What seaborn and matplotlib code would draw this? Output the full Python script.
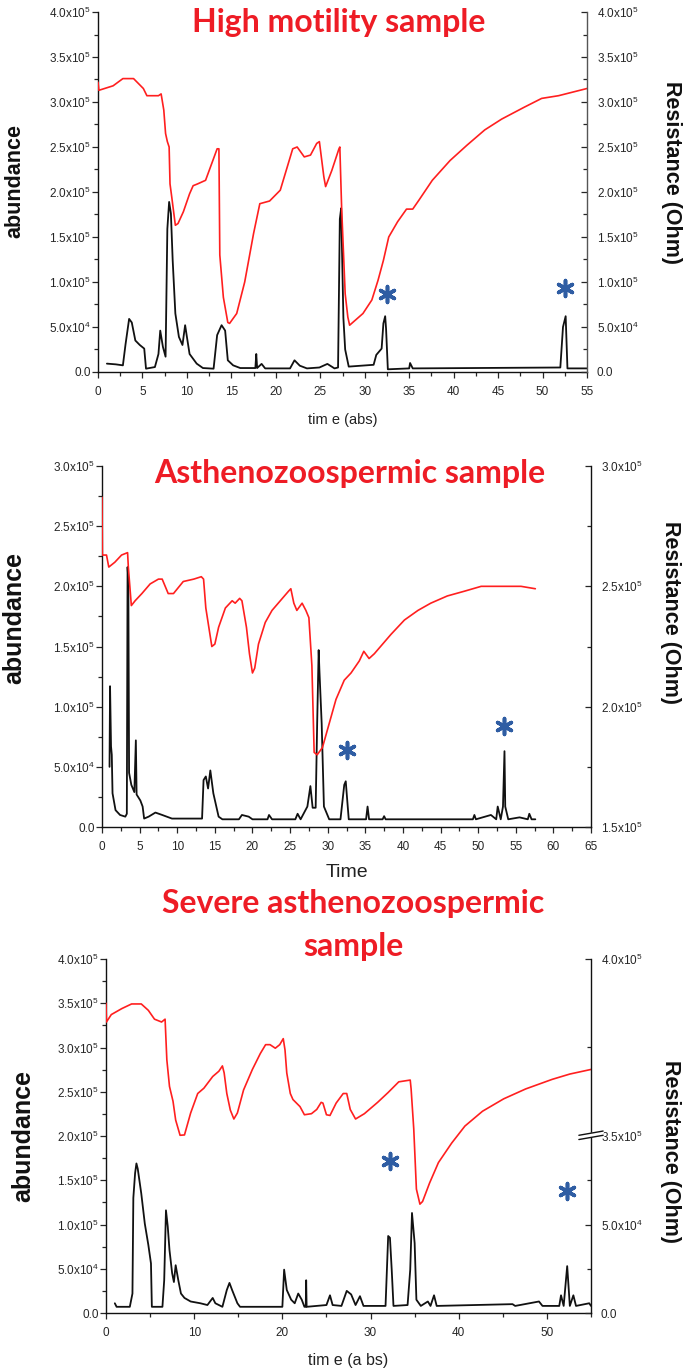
import numpy as np
import matplotlib
matplotlib.use("Agg")
import matplotlib.pyplot as plt
from matplotlib.ticker import MultipleLocator, FixedLocator, FuncFormatter
import seaborn as sns

# ---------- panel 1 : high motility ----------
hm_black_t = [1.0, 2.0, 2.8, 3.1, 3.5, 3.8, 4.2, 4.7, 5.2, 5.4, 6.4, 6.8, 7.0, 7.3, 7.6, 7.8, 8.0, 8.2,
              8.4, 8.7, 9.1, 9.5, 9.8, 10.0, 10.3, 11.1, 11.8, 13.0, 13.4, 13.9, 14.3, 14.6, 15.2, 16.0,
              17.7, 17.8, 17.9, 18.4, 18.8, 21.6, 22.1, 22.7, 23.5, 24.9, 25.8, 26.6, 27.0, 27.2, 27.35,
              27.6, 27.8, 28.2, 31.0, 31.3, 31.9, 32.1, 32.3, 32.4, 32.6, 35.0, 35.1, 35.4, 52.0, 52.3,
              52.6, 52.8, 55.0]
hm_black_v = [9.3e3, 8.5e3, 7.4e3, 3.1e4, 5.9e4, 5.5e4, 3.5e4, 3.0e4, 2.6e4, 3.7e3, 5.5e3, 2.0e4, 4.6e4,
              2.8e4, 1.7e4, 1.59e5, 1.89e5, 1.76e5, 1.24e5, 6.5e4, 3.9e4, 3.0e4, 5.2e4, 3.9e4, 2.0e4,
              9.3e3, 4.4e3, 3.7e3, 4.1e4, 5.2e4, 4.6e4, 1.3e4, 7.4e3, 4.4e3, 4.4e3, 2.0e4, 4.4e3, 9.0e3,
              4.0e3, 4.0e3, 1.3e4, 7.0e3, 4.0e3, 5.0e3, 9.0e3, 4.0e3, 5.0e3, 1.7e5, 1.82e5, 6.0e4, 2.5e4,
              6.0e3, 8.0e3, 1.9e4, 2.6e4, 5.4e4, 6.2e4, 4.8e4, 3.0e3, 4.0e3, 1.0e4, 4.0e3, 5.0e3, 5.0e4,
              6.2e4, 4.0e3, 4.0e3]
hm_red_t = [0.0, 0.1, 1.7, 2.8, 4.0, 5.1, 5.5, 6.8, 7.1, 7.4, 7.6, 7.8, 8.0, 8.1, 8.3, 8.7, 9.0, 9.6,
            10.3, 10.7, 11.2, 12.1, 13.4, 13.6, 13.7, 14.1, 14.6, 14.8, 15.6, 16.5, 17.5, 18.2, 19.3,
            20.5, 21.9, 22.4, 23.2, 23.9, 24.6, 24.9, 25.4, 25.6, 26.3, 27.1, 27.2, 27.4, 27.8, 28.1,
            28.3, 29.8, 30.8, 31.5, 32.1, 32.7, 33.7, 34.7, 35.4, 36.1, 37.6, 39.6, 41.5, 43.5, 45.4,
            47.9, 49.9, 51.8, 55.0]
hm_red_v = [3.22e5, 3.13e5, 3.18e5, 3.26e5, 3.26e5, 3.15e5, 3.07e5, 3.07e5, 3.09e5, 2.91e5, 2.65e5,
            2.56e5, 2.50e5, 2.09e5, 1.94e5, 1.63e5, 1.65e5, 1.78e5, 1.98e5, 2.07e5, 2.09e5, 2.13e5,
            2.48e5, 2.48e5, 1.30e5, 0.83e5, 0.55e5, 0.54e5, 0.65e5, 1.00e5, 1.54e5, 1.87e5, 1.90e5,
            2.02e5, 2.48e5, 2.50e5, 2.39e5, 2.41e5, 2.54e5, 2.56e5, 2.17e5, 2.06e5, 2.24e5, 2.48e5,
            2.50e5, 1.83e5, 0.87e5, 0.61e5, 0.52e5, 0.65e5, 0.80e5, 1.02e5, 1.24e5, 1.50e5, 1.67e5,
            1.81e5, 1.81e5, 1.91e5, 2.13e5, 2.35e5, 2.52e5, 2.69e5, 2.81e5, 2.94e5, 3.04e5, 3.07e5,
            3.15e5]
hm_star_t = [32.5, 52.5]
hm_star_v = [0.87e5, 0.93e5]

# ---------- panel 2 : asthenozoospermic ----------
as_black_t = [1.0, 1.07, 1.2, 1.3, 1.4, 1.8, 2.4, 3.1, 3.3, 3.4, 3.5, 3.6, 3.9, 4.3, 4.5, 4.6, 5.1, 5.4,
              5.6, 6.2, 7.1, 8.0, 9.3, 13.3, 13.5, 13.8, 14.1, 14.4, 14.8, 15.5, 16.0, 18.2, 18.6, 19.5,
              20.0, 22.0, 22.2, 22.6, 25.7, 26.0, 26.4, 27.3, 27.7, 28.0, 28.4, 28.6, 28.8, 28.9, 29.2,
              29.5, 30.2, 31.7, 32.2, 32.4, 32.6, 32.8, 35.1, 35.3, 35.5, 37.3, 37.5, 37.7, 49.3, 49.5,
              49.7, 51.7, 52.4, 52.6, 53.0, 53.3, 53.5, 53.6, 54.0, 55.5, 56.6, 56.8, 57.1, 57.6]
as_black_v = [5.0e4, 1.17e5, 6.7e4, 6.0e4, 2.8e4, 1.4e4, 1.0e4, 8.6e3, 1.1e4, 2.16e5, 2.05e5, 4.5e4,
              3.5e4, 2.9e4, 7.2e4, 2.7e4, 2.2e4, 1.7e4, 7.0e3, 8.6e3, 1.2e4, 1.0e4, 7.0e3, 7.0e3, 3.9e4,
              4.2e4, 3.2e4, 4.7e4, 2.8e4, 8.6e3, 6.4e3, 6.4e3, 1.0e4, 8.6e3, 6.4e3, 6.4e3, 1.0e4, 6.4e3,
              6.4e3, 1.1e4, 6.4e3, 1.7e4, 3.4e4, 1.6e4, 1.6e4, 8.6e4, 1.47e5, 1.3e5, 8.6e4, 1.7e4, 6.4e3,
              6.4e3, 3.5e4, 3.8e4, 2.2e4, 6.4e3, 6.4e3, 1.7e4, 6.4e3, 6.4e3, 9.0e3, 6.4e3, 6.4e3, 1.0e4,
              6.4e3, 1.0e4, 6.4e3, 1.7e4, 6.4e3, 1.7e4, 6.3e4, 1.7e4, 6.4e3, 8.0e3, 6.4e3, 1.1e4, 6.4e3,
              6.4e3]
as_red_t = [0.0, 0.05, 0.6, 0.9, 1.7, 2.6, 3.4, 3.5, 3.9, 4.4, 5.3, 6.4, 7.5, 8.0, 8.8, 9.5, 10.8, 12.2,
            13.2, 13.5, 13.8, 14.2, 14.6, 15.0, 15.5, 16.4, 17.3, 17.7, 18.3, 18.6, 19.2, 19.6, 20.0,
            20.3, 20.8, 21.7, 22.6, 23.7, 24.8, 25.1, 25.5, 25.9, 26.6, 27.1, 27.5, 27.9, 28.2, 28.6,
            29.3, 30.2, 31.1, 32.2, 33.1, 34.2, 34.8, 35.5, 36.2, 38.4, 40.2, 42.0, 43.7, 45.9, 48.2,
            50.4, 52.2, 53.9, 55.7, 57.6]
as_red_r = [2.87e5, 2.63e5, 2.63e5, 2.58e5, 2.60e5, 2.63e5, 2.64e5, 2.58e5, 2.42e5, 2.44e5, 2.47e5,
            2.51e5, 2.53e5, 2.53e5, 2.47e5, 2.47e5, 2.52e5, 2.53e5, 2.54e5, 2.53e5, 2.41e5, 2.33e5,
            2.25e5, 2.26e5, 2.33e5, 2.41e5, 2.44e5, 2.43e5, 2.45e5, 2.44e5, 2.33e5, 2.22e5, 2.14e5,
            2.16e5, 2.26e5, 2.35e5, 2.40e5, 2.44e5, 2.48e5, 2.49e5, 2.43e5, 2.40e5, 2.43e5, 2.40e5,
            2.37e5, 2.17e5, 1.81e5, 1.80e5, 1.83e5, 1.93e5, 2.03e5, 2.11e5, 2.14e5, 2.19e5, 2.23e5,
            2.20e5, 2.22e5, 2.30e5, 2.36e5, 2.40e5, 2.43e5, 2.46e5, 2.48e5, 2.50e5, 2.50e5, 2.50e5,
            2.50e5, 2.49e5]
as_star_t = [32.5, 53.5]
as_star_v = [0.64e5, 0.84e5]

# ---------- panel 3 : severe asthenozoospermic ----------
sv_black_t = [1.0, 1.2, 2.7, 3.0, 3.1, 3.3, 3.45, 3.6, 4.0, 4.4, 4.8, 5.1, 5.2, 6.4, 6.6, 6.8, 7.0, 7.2,
              7.5, 7.7, 7.9, 8.2, 8.5, 8.9, 9.6, 10.7, 11.5, 12.1, 12.4, 13.2, 13.7, 14.0, 14.3, 14.9,
              15.2, 20.0, 20.2, 20.5, 21.0, 21.4, 21.8, 22.2, 22.5, 22.65, 22.7, 22.75, 25.0, 25.4, 25.7,
              26.7, 27.3, 27.8, 28.3, 28.8, 29.2, 31.7, 32.0, 32.2, 32.4, 32.6, 34.2, 34.5, 34.7, 35.0,
              35.2, 35.7, 36.5, 36.8, 37.2, 37.5, 46.1, 46.4, 49.1, 49.5, 51.4, 51.6, 51.9, 52.3, 52.6,
              53.0, 53.3, 54.8, 55.0]
sv_black_v = [1.1e4, 7.0e3, 7.0e3, 2.2e4, 1.3e5, 1.58e5, 1.69e5, 1.63e5, 1.35e5, 1.01e5, 7.7e4, 5.6e4,
              7.0e3, 7.0e3, 3.7e4, 1.16e5, 9.8e4, 7.1e4, 4.5e4, 3.5e4, 5.4e4, 3.7e4, 2.2e4, 1.7e4, 1.3e4,
              1.1e4, 9.0e3, 1.7e4, 1.1e4, 7.0e3, 2.6e4, 3.4e4, 2.6e4, 1.1e4, 7.0e3, 7.0e3, 4.9e4, 2.6e4,
              1.5e4, 1.1e4, 2.2e4, 1.5e4, 7.0e3, 7.0e3, 3.7e4, 7.0e3, 9.0e3, 2.0e4, 9.0e3, 8.0e3, 2.5e4,
              2.1e4, 9.0e3, 1.9e4, 8.0e3, 8.0e3, 8.7e4, 8.5e4, 4.9e4, 8.0e3, 9.0e3, 4.9e4, 1.13e5, 7.9e4,
              1.5e4, 8.0e3, 1.3e4, 8.0e3, 2.0e4, 8.0e3, 1.0e4, 8.0e3, 1.3e4, 8.0e3, 8.0e3, 2.0e4, 8.0e3,
              5.3e4, 8.0e3, 2.0e4, 8.0e3, 1.1e4, 8.0e3]
sv_red_t = [0.0, 0.05, 0.6, 1.8, 2.9, 4.0, 4.8, 5.5, 6.3, 6.7, 6.9, 7.2, 7.6, 7.9, 8.4, 8.9, 9.6, 10.4,
            11.1, 12.1, 12.8, 13.2, 13.4, 13.7, 14.1, 14.5, 14.9, 15.6, 16.6, 17.5, 18.1, 18.6, 19.2,
            19.7, 20.1, 20.3, 20.5, 20.9, 21.2, 22.0, 22.5, 23.3, 23.9, 24.4, 24.6, 25.0, 25.4, 26.1,
            26.9, 27.3, 27.7, 28.3, 29.3, 30.8, 32.0, 33.2, 34.5, 34.6, 34.9, 35.2, 35.6, 35.9, 36.7,
            37.7, 39.2, 40.7, 42.7, 45.1, 47.6, 50.6, 52.6, 55.0]
# read on the broken right axis (lower segment 0-1e5, upper segment 3.5e5-4e5)
sv_red_r = [3.875e5, 3.822e5, 3.843e5, 3.860e5, 3.873e5, 3.873e5, 3.855e5, 3.830e5, 3.822e5, 3.830e5,
            3.715e5, 3.640e5, 3.598e5, 3.545e5, 3.502e5, 3.503e5, 3.565e5, 3.620e5, 3.635e5, 3.668e5,
            3.683e5, 3.698e5, 3.678e5, 3.620e5, 3.573e5, 3.548e5, 3.565e5, 3.630e5, 3.688e5, 3.733e5,
            3.758e5, 3.758e5, 3.748e5, 3.758e5, 3.775e5, 3.743e5, 3.678e5, 3.620e5, 3.603e5, 3.583e5,
            3.560e5, 3.563e5, 3.575e5, 3.595e5, 3.593e5, 3.560e5, 3.558e5, 3.593e5, 3.620e5, 3.620e5,
            3.575e5, 3.548e5, 3.563e5, 3.595e5, 3.623e5, 3.653e5, 3.658e5, 3.633e5, 3.520e5, 0.700e5,
            0.615e5, 0.630e5, 0.735e5, 0.850e5, 0.960e5, 3.528e5, 3.570e5, 3.605e5, 3.633e5, 3.660e5,
            3.675e5, 3.688e5]
sv_star_t = [32.2, 52.3]
sv_star_v = [1.72e5, 1.38e5]

RED = "#ff1f1f"
TITLE_RED = "#ee1c25"
STAR_BLUE = "#2f5da3"
TICK_COL = "#262626"

sns.set_style("ticks")
plt.rcParams["font.family"] = ["Liberation Sans", "DejaVu Sans"]
plt.rcParams["mathtext.fontset"] = "custom"
plt.rcParams["mathtext.rm"] = "Liberation Sans"
plt.rcParams["mathtext.it"] = "Liberation Sans:italic"
plt.rcParams["mathtext.bf"] = "Liberation Sans:bold"


def sci_label(v, pos=None):
    if v <= 0:
        return "0.0"
    e = int(np.floor(np.log10(v) + 1e-9))
    return f"{v / 10 ** e:.1f}x10$^{{{e}}}$"


def setup_left(ax, xmax, xmaj, xmin, ymax, ymaj, ymin):
    ax.set_xlim(0, xmax)
    ax.set_ylim(0, ymax)
    ax.xaxis.set_major_locator(MultipleLocator(xmaj))
    ax.xaxis.set_minor_locator(MultipleLocator(xmin))
    ax.yaxis.set_major_locator(MultipleLocator(ymaj))
    ax.yaxis.set_minor_locator(MultipleLocator(ymin))
    ax.yaxis.set_major_formatter(FuncFormatter(sci_label))
    ax.tick_params(axis="both", which="both", direction="out", colors=TICK_COL, labelsize=8.5)
    ax.tick_params(axis="both", which="major", length=4, width=0.9)
    ax.tick_params(axis="both", which="minor", length=3, width=0.9)
    ax.tick_params(axis="x", which="major", pad=6)
    ax.tick_params(axis="y", which="major", pad=1)
    ax.spines["top"].set_visible(False)
    ax.spines["right"].set_visible(False)
    for s in ("left", "bottom"):
        ax.spines[s].set_color("#111111")
        ax.spines[s].set_linewidth(1.0)
    ax.set_xlabel("")
    ax.set_ylabel("")


def setup_right(axr, spine_col="#111111"):
    axr.tick_params(axis="y", which="both", direction="in", colors=TICK_COL, labelsize=8.5, pad=7)
    axr.tick_params(axis="y", which="major", length=4, width=0.9)
    axr.tick_params(axis="y", which="minor", length=3, width=0.9)
    for s in ("top", "left", "bottom"):
        axr.spines[s].set_visible(False)
    axr.spines["right"].set_visible(True)
    axr.spines["right"].set_color(spine_col)
    axr.spines["right"].set_linewidth(1.0)
    axr.set_xlabel("")
    axr.set_ylabel("")


def add_labels(ax, axr, xl, xl_y, xl_size, yl_x, yl_y, yl_size, rl_x, rl_y, rl_size):
    ax.text(0.5, xl_y, xl, transform=ax.transAxes, ha="center", va="center", fontsize=xl_size,
            color="#222222")
    ax.text(yl_x, yl_y, "abundance", transform=ax.transAxes, rotation=90, ha="center",
            va="center", fontsize=yl_size, fontweight="bold", color="#111111")
    axr.text(rl_x, rl_y, "Resistance (Ohm)", transform=axr.transAxes, rotation=270,
             ha="center", va="center", fontsize=rl_size, fontweight="bold", color="#111111")


def add_stars(ax, ts, vs):
    ax.scatter(ts, vs, marker=(6, 2, 0), s=130, linewidths=2.6, color=STAR_BLUE, zorder=6)


fig = plt.figure(figsize=(6.85, 13.7), dpi=100)

# ---------------- panel 1 ----------------
ax1 = fig.add_axes([98 / 685, 1 - 372 / 1370, 489 / 685, 360 / 1370])
sns.lineplot(x=hm_black_t, y=hm_black_v, ax=ax1, color="#111111", lw=1.3, estimator=None, sort=False)
setup_left(ax1, 55, 5, 2.5, 4e5, 5e4, 2.5e4)
ax1r = ax1.twinx()
sns.lineplot(x=hm_red_t, y=hm_red_v, ax=ax1r, color=RED, lw=1.2, estimator=None, sort=False)
ax1r.set_ylim(0, 4e5)
ax1r.yaxis.set_major_locator(MultipleLocator(5e4))
ax1r.yaxis.set_minor_locator(MultipleLocator(2.5e4))
ax1r.yaxis.set_major_formatter(FuncFormatter(sci_label))
setup_right(ax1r, "#555555")
add_stars(ax1r, hm_star_t, hm_star_v)
ax1.text(0.493, 0.972, "High motility sample", transform=ax1.transAxes, ha="center", va="center",
         fontsize=23, fontweight="bold", color=TITLE_RED, family=["Lato", "DejaVu Sans"])
add_labels(ax1, ax1r, "tim e (abs)", -0.133, 10.5, -0.17, 0.53, 15.5, 1.172, 0.553, 15.5)

# ---------------- panel 2 ----------------
ax2 = fig.add_axes([102 / 685, 1 - 827 / 1370, 489 / 685, 361 / 1370])
sns.lineplot(x=as_black_t, y=as_black_v, ax=ax2, color="#111111", lw=1.3, estimator=None, sort=False)
setup_left(ax2, 65, 5, 2.5, 3e5, 5e4, 2.5e4)
ax2r = ax2.twinx()
sns.lineplot(x=as_red_t, y=as_red_r, ax=ax2r, color=RED, lw=1.2, estimator=None, sort=False)
ax2r.set_ylim(1.5e5, 3.0e5)
ax2r.yaxis.set_major_locator(MultipleLocator(5e4))
ax2r.yaxis.set_minor_locator(MultipleLocator(2.5e4))
ax2r.yaxis.set_major_formatter(FuncFormatter(sci_label))
setup_right(ax2r)
ax2.scatter(as_star_t, as_star_v, marker=(6, 2, 0), s=130, linewidths=2.6, color=STAR_BLUE, zorder=6)
ax2r.set_zorder(ax2.get_zorder() + 1)
ax2.text(0.507, 0.98, "Asthenozoospermic sample", transform=ax2.transAxes, ha="center", va="center",
         fontsize=23, fontweight="bold", color=TITLE_RED, family=["Lato", "DejaVu Sans"])
add_labels(ax2, ax2r, "Time", -0.127, 14, -0.18, 0.58, 18, 1.162, 0.593, 15.5)

# ---------------- panel 3 ----------------
ax3 = fig.add_axes([106 / 685, 1 - 1313 / 1370, 485 / 685, 354 / 1370])
sns.lineplot(x=sv_black_t, y=sv_black_v, ax=ax3, color="#111111", lw=1.3, estimator=None, sort=False)
setup_left(ax3, 55, 10, 5, 4e5, 5e4, 2.5e4)
ax3.scatter(sv_star_t, sv_star_v, marker=(6, 2, 0), s=130, linewidths=2.6, color=STAR_BLUE, zorder=6)
ax3r = ax3.twinx()
brk_real = [0.0, 1.0e5, 3.5e5, 4.0e5]
brk_disp = [0.0, 2.0e5, 2.0001e5, 4.0e5]


def fwd(r):
    return np.interp(r, brk_real, brk_disp)


def inv(d):
    return np.interp(d, brk_disp, brk_real)


ax3r.set_yscale("function", functions=(fwd, inv))
sns.lineplot(x=sv_red_t, y=sv_red_r, ax=ax3r, color=RED, lw=1.2, estimator=None, sort=False)
ax3r.set_ylim(0, 4e5)
ax3r.yaxis.set_major_locator(FixedLocator([0, 5e4, 3.5e5, 4e5]))
ax3r.yaxis.set_minor_locator(FixedLocator([2.5e4, 7.5e4, 3.75e5]))
ax3r.yaxis.set_major_formatter(FuncFormatter(sci_label))
setup_right(ax3r)
# axis break marks
ax3r.fill([0.975, 1.025, 1.025, 0.975], [0.492, 0.502, 0.512, 0.502], transform=ax3r.transAxes,
          color="white", clip_on=False, zorder=5)
for dy in (0.0, 0.012):
    ax3r.plot([0.975, 1.025], [0.490 + dy, 0.502 + dy], transform=ax3r.transAxes, color="#111111",
              lw=1.0, clip_on=False, zorder=6)
ax3.text(0.509, 1.095, "Severe asthenozoospermic\nsample", transform=ax3.transAxes, ha="center",
         va="center", fontsize=23, fontweight="bold", color=TITLE_RED, linespacing=1.58,
         family=["Lato", "DejaVu Sans"])
add_labels(ax3, ax3r, "tim e (a bs)", -0.133, 11.5, -0.17, 0.5, 18, 1.163, 0.455, 15.5)

fig.savefig("out.png", dpi=100)
